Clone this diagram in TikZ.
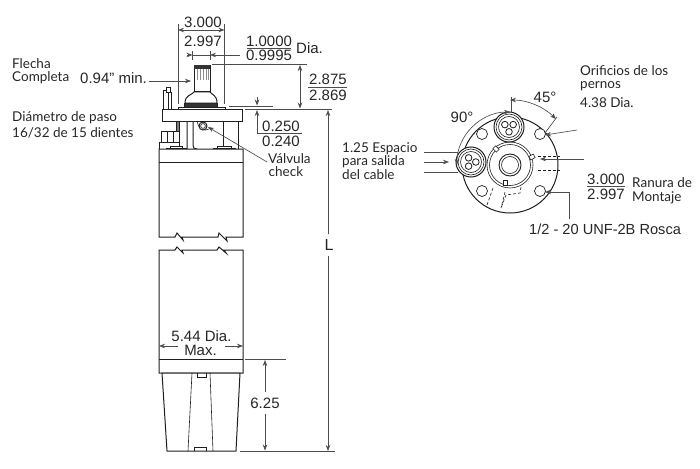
\documentclass[tikz,border=0pt]{standalone}
\usepackage{fontspec}
\setmainfont{Liberation Sans}
\newfontfamily\labelfont{Lato}
\usetikzlibrary{arrows.meta,calc}
\definecolor{dimgray}{gray}{0.3}
\definecolor{inkline}{gray}{0.12}
\tikzset{
 part/.style={draw=inkline,line width=1pt,fill=white},
 thin part/.style={draw=inkline,line width=0.6pt},
 dimline/.style={draw=dimgray,line width=0.65pt},
 dimarrow/.style={dimline,-{Stealth[length=6pt,width=4.5pt]}},
 dimboth/.style={dimline,{Stealth[length=6pt,width=4.5pt]}-{Stealth[length=6pt,width=4.5pt]}},
 hidden/.style={draw=inkline,line width=0.6pt,dash pattern=on 3pt off 2pt},
 num/.style={font=\fontsize{15}{16}\selectfont,text=black!85,inner sep=0pt},
 lab/.style={font=\labelfont\fontsize{13.5}{15}\selectfont,text=black!85,inner sep=0pt,anchor=west},
}
\begin{document}
\begin{tikzpicture}[x=1pt,y=-1pt]
\useasboundingbox (0,0) rectangle (700,468);
% ---------- pump body, side view
\path[part] (178,107) rectangle (225,109);
\path[part,fill=black!80] (184,103) rectangle (217,107);
\path[part] (185,103) .. controls (185,95) and (192,95) .. (194,92) -- (210,92) .. controls (212,95) and (217,95) .. (217,103) -- cycle;
\path[part] (194,66) -- (194,92) -- (210,92) -- (210,66) -- cycle;
\fill[black!80] (194,65) rectangle (210,69);
\foreach \xx in {197,200,203,206,208}{\draw[thin part,draw=black!45] (\xx,69) -- (\xx,80);}
\path[part] (163.5,91) rectangle (168,109);
\path[part] (168,93) rectangle (171.5,109);
\path[part] (166,88) rectangle (170,93);
\path[part] (162,109) rectangle (242,121);
\path[part] (159,149) -- (159,142) -- (161,142) -- (179,142) -- (179,149) -- cycle;
\path[part] (161,131) rectangle (179,142);
\draw[thin part] (167,131) -- (167,142) (173,131) -- (173,142);
\draw[part,fill=black!50] (176,121) rectangle (179,131);
\draw[part] (187,121) -- (187,149) (193,121) -- (193,145) .. controls (193,148) and (194,149) .. (197,149);
\draw[part] (223,121) -- (223,149);
\draw[part] (238,121) -- (238,149);
\draw[thin part] (197,121) .. controls (199,131) and (205,131) .. (209,129);
\draw[part] (203,126) circle (4);
\draw[thin part] (203,126) circle (2.4);
\draw[part] (159,149) -- (243,149);
\path[part] (170,146) rectangle (182,148);
\path[part] (166,148) rectangle (186,149.5);
\path[part] (217,146) rectangle (231,148);
\path[part] (213,148) rectangle (235,149.5);
\path[part] (159,149) -- (159,237) -- (175,237) -- (177,233) -- (183,240) -- (182,237) -- (218,237) -- (219,233) -- (227,241) -- (226,237) -- (243,237) -- (243,149) -- cycle;
\draw[part] (159,162) -- (243,162);
\path[part] (159,250) -- (175,250) -- (177,247) -- (183,253) -- (182,250) -- (217,250) -- (219,247) -- (226,253) -- (224,250) -- (243,250) -- (243,373) -- (159,373) -- cycle;
\draw[part] (159,359) -- (243,359);
\path[part] (162,373) -- (167,451) -- (236,451) -- (240,373) -- cycle;
\draw[thin part] (192,373) -- (188,451) (210,373) -- (213,451);
\draw[thin part] (197,373) -- (197,377) -- (206,377) -- (206,373);
\draw[thin part] (194,451) -- (194,447) -- (206,447) -- (206,451);
% ---------- top view
\path[part] (510,165) circle (48);
\foreach \hx/\hy in {482/134,540/134,482/191,540/191}{\path[part,line width=0.7pt] (\hx,\hy) circle (5.5);}
\draw[thin part] (510,165) circle (23);
\draw[thin part] (510,165) circle (20.5);
\draw[thin part,line width=0.9pt] (510,165) circle (11);
\draw[thin part] (510,165) circle (8.5);
\foreach \rx/\ry/\ra in {496/149/45,532/157/-60,505/183/0}{\path[part,line width=0.6pt,rotate around={\ra:(\rx,\ry)}] (\rx-2,\ry-2.5) rectangle (\rx+2,\ry+2.5);}
\foreach \cx/\cy/\ca in {509/127/90,471/162/0}{
  \path[part] (\cx,\cy) circle (15);
  \draw[thin part] (\cx,\cy) circle (13);
  \draw[thin part] (\cx,\cy) circle (10.5);
  \foreach \a in {0,120,240}{\draw[part,line width=0.8pt] ($(\cx,\cy)+(\a+\ca:4.8)$) circle (3.3);}
}
\draw[hidden] (538,156) -- (560,156) (538,170) -- (560,170);
\draw[hidden] (493,188) -- (487,205) (505,192) -- (501,208);
\draw[hidden] (521,187) -- (520,193) -- (506,195) -- (501,208);
% ---------- named end points of the dimension lines
\coordinate (ext3L) at (178,24); \coordinate (ext3Lb) at (178,104);
\coordinate (ext3R) at (224.5,24); \coordinate (ext3Rb) at (224.5,104);
\coordinate (ar3L) at (178,30); \coordinate (ar3R) at (224.5,30);
\node[num] (t3000) at (203,22) {3.000};
\node[num] (t2997) at (203,41) {2.997};
\draw[dimline] (ext3L) -- (ext3Lb) (ext3R) -- (ext3Rb);
\draw[dimboth] (ar3L) -- (ar3R);
% 1.0000
\coordinate (sL) at (192.5,55); \coordinate (sR) at (210,55); \coordinate (sLe) at (187,55); \coordinate (sRe) at (240,55);
\draw[dimline] (192.5,51.5) -- (192.5,60.5) (210,51.5) -- (210,60.5);
\draw[dimarrow] (sLe) -- (sL);
\draw[dimarrow] (sRe) -- (sR);
\draw[dimline] (sL) -- (sR);
\node[num] (t10000) at (269,41) {1.0000};
\node[num] (t09995) at (269,55) {0.9995};
\draw[dimline] (247,48) -- (291,48);
\node[num,anchor=west] (tdia) at (296,48) {Dia.};
% 2.875
\coordinate (top1) at (212,64.5); \coordinate (top2) at (307,64.5);
\coordinate (base1) at (245,109); \coordinate (base2) at (332,109);
\draw[dimline] (top1) -- (top2) (base1) -- (base2);
\draw[dimboth] (300,65) -- (300,108.5);
\node[num] (t2875) at (328,79) {2.875};
\node[num] (t2869) at (328,95) {2.869};
\draw[dimline] (308,87) -- (347,87);
% 0.250
\coordinate (e1) at (229,106); \coordinate (e2) at (273,106);
\draw[dimline] (e1) -- (e2);
\draw[dimarrow] (257,97) -- (257,105.5);
\draw[dimarrow] (263,133) -- (257,133) -- (257,110);
\node[num] (t0250) at (281,126.5) {0.250};
\node[num] (t0240) at (281,141) {0.240};
\draw[dimline] (263,133) -- (302,133);
% L
\node[num,font=\fontsize{16}{16}\selectfont] (tL) at (329,245) {L};
\coordinate (Lb) at (328,451);
\draw[dimarrow] (tL.north) ++(-1,-5) -- (328,110);
\draw[dimarrow] (tL.south) ++(-1,5) -- (Lb);
\draw[dimline] (240,451) -- (335,451);
% 6.25
\node[num] (t625) at (265,403) {6.25};
\draw[dimline] (245,359) -- (286,359);
\draw[dimarrow] (t625.north) ++(0,-5) -- (265,360);
\draw[dimarrow] (t625.south) ++(0,5) -- (265,450.5);
% 5.44
\node[num] (t544) at (201.5,336) {5.44 Dia.};
\node[num] (tmax) at (200.5,350) {Max.};
\coordinate (wL) at (159,346); \coordinate (wR) at (243,346);
\draw[dimarrow] (178,346) -- (wL);
\draw[dimarrow] (225,346) -- (wR);
% left labels
\node[lab] (flecha) at (12,64) {Flecha};
\node[lab] (completa) at (12,78) {Completa};
\node[num,anchor=west] (t094) at (80,78) {0.94" min.};
\coordinate (shaft) at (191,81);
\draw[dimarrow] (149,81) -- (shaft);
\node[lab] (diam) at (12,118) {Diámetro de paso};
\node[lab] (dient) at (12,133) {16/32 de 15 dientes};
% valve
\node[lab] (valv) at (268,159) {Válvula};
\node[lab] (chk) at (268.5,172) {check};
\coordinate (vpt) at (208,127);
\draw[dimarrow] (267,162) -- (vpt);
% top view labels
\node[lab] (orif) at (580,71) {Orificios de los};
\node[lab] (pern) at (580,86) {pernos};
\node[lab] (d438) at (580,103) {4.38 Dia.};
\node[num] (t45) at (545,97) {45°};
\node[num] (t90) at (462,117) {90°};
\draw[dimline] (511,97) -- (511,113);
\draw[dimline] (557,117) -- (545,133);
\draw[dimboth] (510,100) arc[start angle=-90,end angle=-45,radius=65];
\draw[dimboth] (510,112) arc[start angle=-90,end angle=-180,radius=53];
\draw[dimarrow] (577,130) -- (545,135);
\draw[dimarrow] (584,159) -- (540,159);
\node[lab] (espa) at (342,149) {1.25 Espacio};
\node[lab] (sali) at (342,162) {para salida};
\node[lab] (cabl) at (342,175) {del cable};
\draw[dimline] (424,152) -- (458,152) (424,172) -- (458,172);
\draw[dimarrow] (424,162) -- (449,162);
\node[num] (r3000) at (606,179) {3.000};
\node[num] (r2997) at (606,194) {2.997};
\draw[dimline] (587,186.5) -- (625,186.5);
\node[lab] (ranu) at (632,183) {Ranura de};
\node[lab] (mont) at (632,198) {Montaje};
\node[num,anchor=west,font=\fontsize{14.6}{16}\selectfont] (rosca) at (529,229) {1/2 - 20 UNF-2B Rosca};
\draw[dimarrow] (569,219) -- (569,192) -- (545,192);
\end{tikzpicture}
\end{document}
